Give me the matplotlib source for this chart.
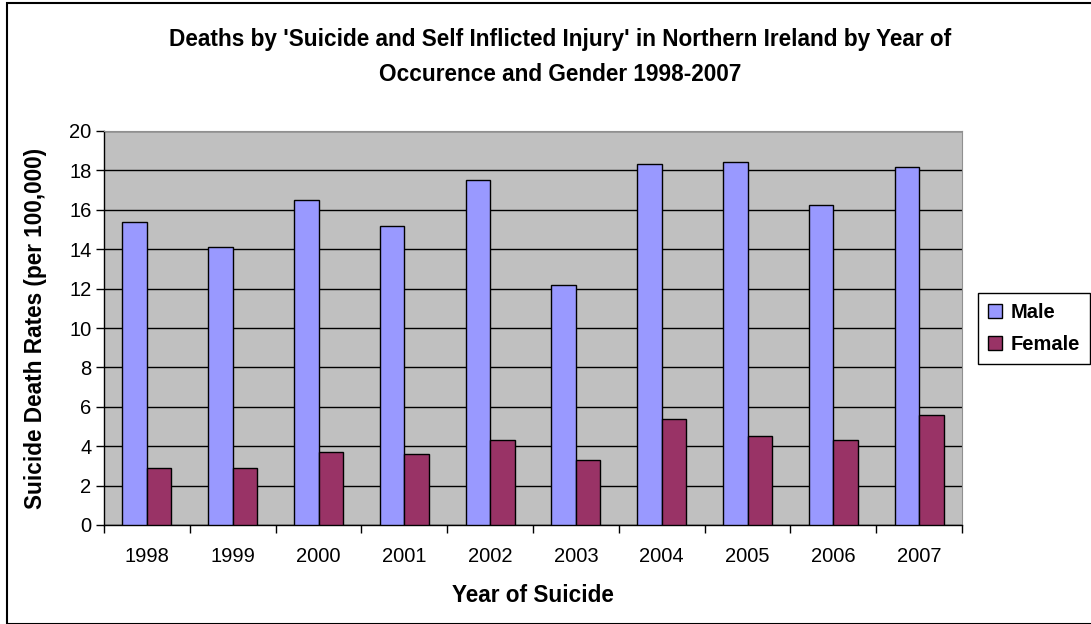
import matplotlib
matplotlib.use('Agg')
import matplotlib.pyplot as plt
import numpy as np

years = ['1998', '1999', '2000', '2001', '2002', '2003', '2004', '2005', '2006', '2007']
male = [15.4, 14.1, 16.5, 15.2, 17.5, 12.2, 18.3, 18.45, 16.25, 18.15]
female = [2.9, 2.9, 3.7, 3.6, 4.3, 3.3, 5.4, 4.5, 4.3, 5.6]

plt.rcParams['font.family'] = ['Liberation Sans', 'DejaVu Sans']

W, H = 1091, 624
fig = plt.figure(figsize=(W / 100, H / 100), dpi=100)

# chart area border
fig.patches.append(plt.Rectangle((7 / W, 0), 1.2, (H - 3) / H, transform=fig.transFigure,
                                 fill=False, edgecolor='black', linewidth=1.5))

ax = fig.add_axes([104 / W, 1 - 525 / H, (962 - 104) / W, (525 - 131) / H])
ax.set_facecolor('#C0C0C0')

x = np.arange(len(years))
bw = 1 / 3.5
ax.bar(x - bw / 2, male, bw, color='#9999FF', edgecolor='black', linewidth=1, label='Male', zorder=3)
ax.bar(x + bw / 2, female, bw, color='#993366', edgecolor='black', linewidth=1, label='Female', zorder=3)

ax.set_xlim(-0.5, len(years) - 0.5)
ax.set_ylim(0, 20)
ax.set_yticks(range(0, 21, 2))
ax.yaxis.grid(True, color='black', linewidth=1, zorder=1)
ax.set_axisbelow(True)

ax.set_xticks(np.arange(-0.5, len(years), 1))
ax.set_xticklabels([])
ax.set_xticks(x, minor=True)
ax.set_xticklabels(years, minor=True)
ax.tick_params(axis='x', which='major', direction='out', length=6, width=1)
ax.tick_params(axis='x', which='minor', length=0, pad=16, labelsize=14.5)
ax.tick_params(axis='y', direction='out', length=6, width=1, labelsize=14.5, pad=3)

for s in ['top', 'right']:
    ax.spines[s].set_color('#909090')
for s in ['left', 'bottom']:
    ax.spines[s].set_color('black')
    ax.spines[s].set_linewidth(1)

ax.set_xlabel('Year of Suicide', fontsize=16.3, fontweight='bold', labelpad=13)
ax.set_ylabel('Suicide Death Rates (per 100,000)', fontsize=16.3, fontweight='bold', labelpad=16)

fig.text(560 / W, 1 - 57 / H,
         "Deaths by 'Suicide and Self Inflicted Injury' in Northern Ireland by Year of\nOccurence and Gender 1998-2007",
         ha='center', va='center', fontsize=16.3, fontweight='bold', linespacing=1.65)

leg = ax.legend(loc='upper left', bbox_to_anchor=(978 / W, 1 - 293 / H), bbox_transform=fig.transFigure,
                fancybox=False, edgecolor='black', framealpha=1, borderaxespad=0,
                prop={'weight': 'bold', 'size': 14.5}, handlelength=0.7, handleheight=0.7,
                handletextpad=0.4, labelspacing=0.65, borderpad=0.5)
leg.get_frame().set_linewidth(1)

fig.savefig('out.png', dpi=100)
